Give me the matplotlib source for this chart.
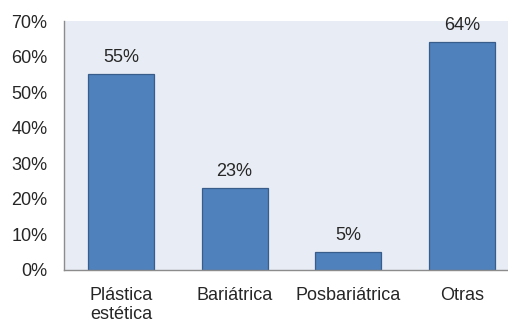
import matplotlib
matplotlib.use("Agg")
import matplotlib.pyplot as plt
from matplotlib.ticker import FuncFormatter

categories = ["Plástica\nestética", "Bariátrica", "Posbariátrica", "Otras"]
values = [55, 23, 5, 64]
yticks = [0, 10, 20, 30, 40, 50, 60, 70]

plt.rcParams["font.family"] = ["Liberation Sans", "DejaVu Sans"]

W, H = 508, 323
fig = plt.figure(figsize=(W / 100, H / 100), dpi=100)
left, right, top, bottom = 64, 508, 21, 270
ax = fig.add_axes([left / W, 1 - bottom / H, (right - left) / W, (bottom - top) / H])
ax.set_facecolor("#E8ECF4")

x = range(len(categories))
bars = ax.bar(x, values, width=0.58, color="#4F81BD", edgecolor="#385D8A", linewidth=0.9)

fs = 13
for xi, v in zip(x, values):
    ax.annotate(f"{v}%", (xi, v), xytext=(0, 6), textcoords="offset points",
                ha="center", va="bottom", fontsize=fs, color="#262626")

ax.set_ylim(0, 70)
ax.set_xlim(-0.5, -0.5 + (right - left) / 113.7)
ax.set_yticks(yticks)
ax.yaxis.set_major_formatter(FuncFormatter(lambda v, p: f"{int(v)}%"))
ax.set_xticks(list(x))
ax.set_xticklabels(categories, linespacing=1.1)
ax.tick_params(axis="y", length=0, pad=12, labelsize=fs, labelcolor="#262626")
ax.tick_params(axis="x", length=0, pad=12.5, labelsize=fs, labelcolor="#262626")

for s in ["top", "right"]:
    ax.spines[s].set_visible(False)
for s in ["left", "bottom"]:
    ax.spines[s].set_color("#8C8C8C")
    ax.spines[s].set_linewidth(1.0)

fig.savefig("out.png", dpi=100, facecolor="white")
